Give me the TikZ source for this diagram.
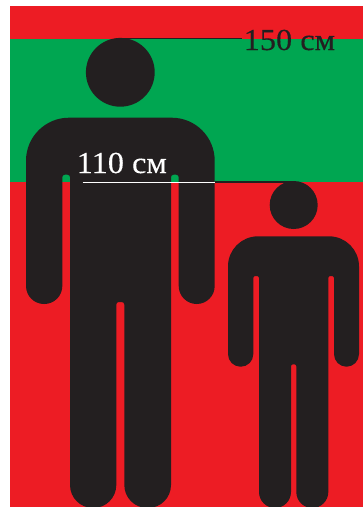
\documentclass[tikz,border=0pt]{standalone}
\usepackage{fontspec}
\setmainfont[FakeStretch=1.06,FakeBold=0.25]{Liberation Serif}
\definecolor{flagred}{HTML}{ED1C24}
\definecolor{flaggreen}{HTML}{00A651}
\definecolor{figblack}{HTML}{231F20}
\tikzset{
  person/.style={fill=figblack},
  headdot/.style={circle,fill=figblack,inner sep=0pt,minimum size=#1},
  heightlabel/.style={inner sep=0pt,anchor=base west,font=\fontsize{30.5pt}{32pt}\selectfont},
  measure/.style={line width=1.2pt},
  whitemeasure/.style={line width=0.9pt,white}
}
\begin{document}
\begin{tikzpicture}[x=1pt,y=-1pt]
\useasboundingbox (0,0) rectangle (363,507);
\fill[white] (0,0) rectangle (363,507);
\fill[flagred] (10,6) rectangle (363,507);
\fill[flaggreen] (10,39) rectangle (363,181.7);
% big figure
\fill[person] [rounded corners=43pt] (26,200) -- (26,117.7) -- (214.7,117.7) -- (214.7,200)
  [rounded corners=18pt] -- (214.7,304) -- (178.7,304) -- (178.7,240)
  [rounded corners=2.5pt] -- (178.7,174.7) -- (171,174.7) -- (171,300)
  [rounded corners=23pt] -- (171,508) -- (124.3,508) -- (124.3,400)
  [rounded corners=2.5pt] -- (124.3,302) -- (116.3,302) -- (116.3,400)
  [rounded corners=23pt] -- (116.3,508) -- (70,508) -- (70,300)
  [rounded corners=2.5pt] -- (70,174.7) -- (62.3,174.7) -- (62.3,240)
  [rounded corners=18pt] -- (62.3,304) -- (26,304) -- cycle;
\node[headdot=68.8pt] (bighead) at (120.3,72.3) {};
% small figure
\fill[person] [rounded corners=30pt] (228,300) -- (228,236.3) -- (359,236.3) -- (359,300)
  [rounded corners=12.5pt] -- (359,366.7) -- (334,366.7) -- (334,320)
  [rounded corners=2pt] -- (334,276) -- (328.3,276) -- (328.3,400)
  [rounded corners=16pt] -- (328.3,508) -- (296.3,508) -- (296.3,430)
  [rounded corners=2pt] -- (296.3,364.3) -- (291,364.3) -- (291,430)
  [rounded corners=16pt] -- (291,508) -- (259,508) -- (259,400)
  [rounded corners=2pt] -- (259,276) -- (253.3,276) -- (253.3,320)
  [rounded corners=12.5pt] -- (253.3,366.7) -- (228,366.7) -- cycle;
\node[headdot=48pt] (smallhead) at (293.7,205) {};
% labels
\node[heightlabel,text=figblack] (tall) at (243.5,50) {150 см};
\node[heightlabel,text=white] (short) at (76.5,173) {110 см};
\coordinate (shortstart) at (82.5,182);
\coordinate (shortedge) at (214.7,182);
\coordinate (tallend) at (242,38.7);
\coordinate (smalltop) at (293.7,182);
\coordinate (bigtop) at (120.3,38.7);
\draw[measure,figblack] (bigtop) -- (tallend);
\draw[whitemeasure] (shortstart) -- (shortedge);
\draw[measure,figblack] (shortedge) -- (smalltop);
\end{tikzpicture}
\end{document}
